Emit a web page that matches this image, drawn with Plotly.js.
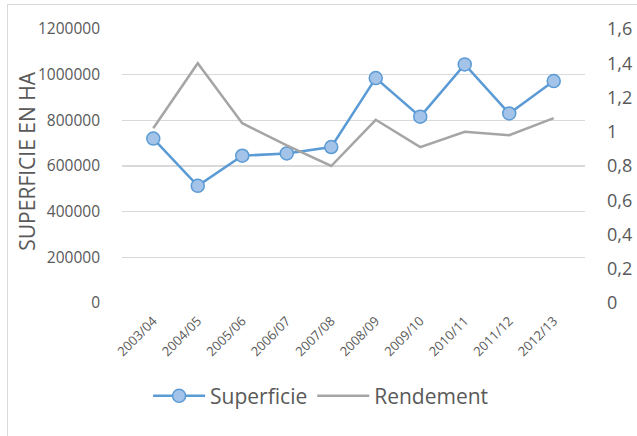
<!DOCTYPE html>
<html><head><meta charset="utf-8">
<script src="https://cdn.plot.ly/plotly-3.0.1.min.js"></script>
<style>
html,body{margin:0;padding:0;background:#fff;overflow:hidden;}
#wrap{position:relative;width:637px;height:436px;}
#chart{position:absolute;left:0;top:0;width:637px;height:436px;}
#frame{position:absolute;left:7px;top:4px;width:700px;height:500px;border:1px solid #D9D9D9;pointer-events:none;}
</style></head>
<body><div id="wrap"><div id="chart"></div><div id="frame"></div></div>
<script>
const categories = ["2003/04","2004/05","2005/06","2006/07","2007/08","2008/09","2009/10","2010/11","2011/12","2012/13"];
const superficie = [720000, 513000, 645000, 655000, 683000, 985000, 816000, 1045000, 830000, 972000];
const rendement = [1.02, 1.40, 1.05, 0.92, 0.80, 1.07, 0.91, 1.00, 0.98, 1.08];
const yTitle = "SUPERFICIE EN HA";

const FONT = "'Open Sans', 'Liberation Sans', sans-serif";
const GREY = "#595959";

const traces = [
  {x: categories, y: superficie, name: "Superficie", type: "scatter", mode: "lines+markers",
   line: {color: "#5B9BD5", width: 2.5},
   marker: {size: 13, color: "#A3C3E8", line: {color: "#5B9BD5", width: 1.5}}},
  {x: categories, y: rendement, name: "Rendement", type: "scatter", mode: "lines", yaxis: "y2",
   line: {color: "#A5A5A5", width: 2.5}}
];

const layout = {
  width: 637, height: 436,
  margin: {l: 122, r: 52, t: 29, b: 133},
  paper_bgcolor: "rgba(0,0,0,0)", plot_bgcolor: "rgba(0,0,0,0)",
  separators: ", ",
  font: {family: FONT, color: GREY},
  showlegend: true,
  legend: {orientation: "h", x: 0.43, xanchor: "center", y: -0.34, yanchor: "middle",
           font: {size: 21, color: GREY}, itemwidth: 52, traceorder: "normal", entrywidth: 0},
  xaxis: {type: "category", tickangle: -45, tickfont: {size: 13, color: GREY},
          showgrid: false, zeroline: false, showline: false, ticks: "", automargin: false,
          ticklabelstandoff: 7},
  yaxis: {range: [0, 1200000], dtick: 200000, tickformat: "d",
          tickfont: {size: 15.5, color: GREY}, gridcolor: "#D9D9D9", gridwidth: 1.5,
          zeroline: false, showline: false, ticks: "", ticklabelstandoff: 21, automargin: false},
  yaxis2: {range: [0, 1.6], dtick: 0.2, overlaying: "y", side: "right",
           tickfont: {size: 18, color: GREY}, showgrid: false, zeroline: false, showline: false,
           ticks: "", ticklabelstandoff: 21, automargin: false},
  annotations: [{text: yTitle, textangle: -90, xref: "paper", yref: "paper",
                 x: -0.205, y: 0.516, xanchor: "center", yanchor: "middle", showarrow: false,
                 font: {size: 21, color: GREY}}]
};

Plotly.newPlot("chart", traces, layout, {displayModeBar: false, staticPlot: true});
</script></body></html>
